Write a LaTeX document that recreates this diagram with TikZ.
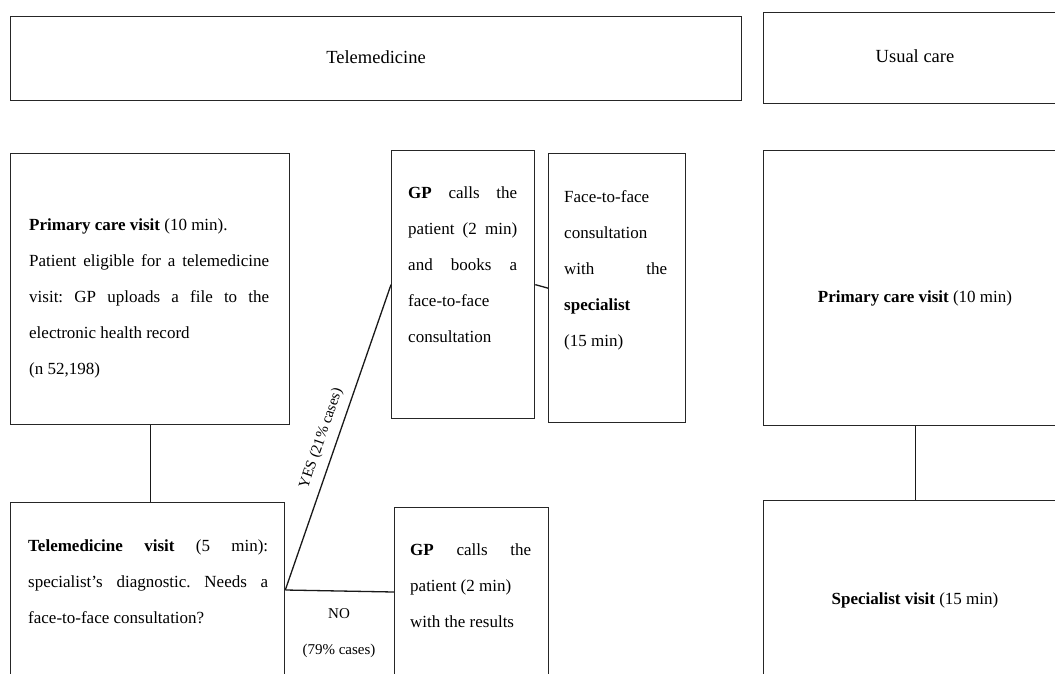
\documentclass[tikz,border=0pt]{standalone}
\usepackage{fontspec}
\setmainfont{Liberation Serif}
\usetikzlibrary{calc}
\newcommand{\fixsp}{\spaceskip=0pt\xspaceskip=0pt\frenchspacing}
\newcommand{\jl}[2]{\makebox[#1][s]{#2}}
\tikzset{
  box/.style={draw=black!85, line width=1.3pt, rectangle, inner sep=0pt, anchor=north west},
  txt/.style={anchor=north west, inner sep=0pt, align=left, font=\fontsize{17}{36}\selectfont},
  rtxt/.style={inner sep=0pt, font=\fontsize{17}{24}\selectfont},
  head/.style={inner sep=0pt, font=\fontsize{18.5}{24}\selectfont},
  conn/.style={line width=1.3pt, draw=black!90},
  lbl/.style={font=\fontsize{15}{36}\selectfont, inner sep=0pt, align=center},
}
\begin{document}
\begin{tikzpicture}[x=1pt,y=-1pt]
\useasboundingbox (0,0) rectangle (1055,673);
\fill[white] (0,0) rectangle (1055,673);
\clip (0,0) rectangle (1055,673);

% headers
\node[box, minimum width=731pt, minimum height=84pt] (tele) at (10,16) {};
\node[head] (telet) at (376,57) {Telemedicine};
\node[box, minimum width=304pt, minimum height=91pt] (usual) at (763,12) {};
\node[head] (usualt) at (915,56) {Usual care};

% telemedicine column
\node[box, minimum width=279pt, minimum height=271pt] (prim) at (10,153) {};
\node[txt, text width=244pt] (primt) at (29,204.8) {\fixsp\strut\textbf{Primary care visit} (10 min).\\
\jl{240pt}{Patient eligible for a telemedicine}\\
\jl{240pt}{visit: GP uploads a file to the}\\
electronic health record\\
(n 52,198)};

\node[box, minimum width=274pt, minimum height=220pt] (tv) at (10,502) {};
\node[txt, text width=244pt] (tvt) at (28,525.8) {\fixsp\strut\jl{240pt}{\textbf{Telemedicine visit} (5 min):}\\
\jl{240pt}{specialist’s diagnostic. Needs a}\\
face-to-face consultation?};

\node[box, minimum width=143pt, minimum height=268pt] (gp) at (391,150) {};
\node[txt, text width=112pt] (gpt) at (408,172.8) {\fixsp\strut\jl{109pt}{\textbf{GP} calls the}\\
\jl{109pt}{patient (2 min)}\\
\jl{109pt}{and books a}\\
face-to-face\\
consultation};

\node[box, minimum width=137pt, minimum height=269pt] (face) at (548,153) {};
\node[txt, text width=108pt] (facet) at (564,176.8) {\fixsp\strut Face-to-face\\
consultation\\
\jl{103pt}{with the}\\
\textbf{specialist}\\
(15 min)};

\node[box, minimum width=154pt, minimum height=220pt] (gp2) at (394,507) {};
\node[txt, text width=125pt] (gp2t) at (410,529.8) {\fixsp\strut\jl{121pt}{\textbf{GP} calls the}\\
patient (2 min)\\
with the results};

% usual care column
\node[box, minimum width=304pt, minimum height=275pt] (rprim) at (763,150) {};
\node[rtxt] (rprimt) at (915,298) {\textbf{Primary care visit} (10 min)};
\node[box, minimum width=304pt, minimum height=250pt] (rspec) at (763,500) {};
\node[rtxt] (rspect) at (915,600) {\textbf{Specialist visit} (15 min)};

% connectors
\coordinate (split) at ($(tv.north east)+(0,88)$);
\coordinate (noend) at ($(gp2.north west)+(0,85)$);
\draw[conn] (prim.south) -- (prim.south |- tv.north);
\draw[conn] (rprim.south) -- (rprim.south |- rspec.north);
\draw[conn] (gp.east) -- (face.west);
\draw[conn] (split) -- node[lbl, sloped, above=8pt, pos=0.48] (yes) {YES (21\% cases)} (gp.west);
\draw[conn] (split) -- (noend);
\node[lbl] (no) at (339,633) {NO\\(79\% cases)};
\end{tikzpicture}
\end{document}
